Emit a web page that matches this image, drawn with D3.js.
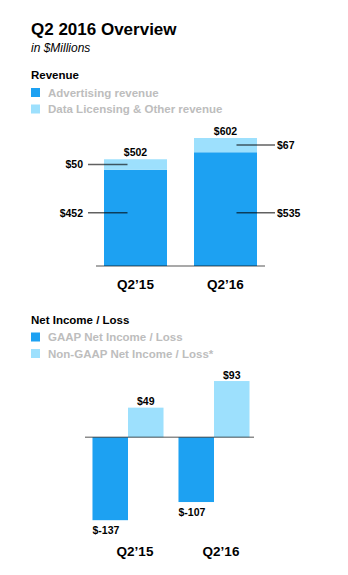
<!DOCTYPE html>
<html>
<head>
<meta charset="utf-8">
<script src="https://cdn.jsdelivr.net/npm/d3@7"></script>
<style>
  html, body { margin: 0; padding: 0; background: #fff; }
  svg { display: block; font-family: "Liberation Sans", Arial, Helvetica, sans-serif; }
</style>
</head>
<body>
<svg id="chart" width="348" height="575"></svg>
<script>
// Quarterly figures, $ millions
const quarters = ["Q2\u201915", "Q2\u201916"];
const advertising = [452, 535];
const dataLicensing = [50, 67];
const totalRevenue = [502, 602];
const gaapNet = [-137, -107];
const nonGaapNet = [49, 93];

const revenueLegend = ["Advertising revenue", "Data Licensing & Other revenue"];
const netLegend = ["GAAP Net Income / Loss", "Non-GAAP Net Income / Loss*"];

const DARK = "#1da1f2";
const LIGHT = "#9de0fd";
const LEGEND_TEXT = "#bdbdbd";

const svg = d3.select("#chart");

// Headings
svg.append("text").attr("x", 31).attr("y", 35)
  .attr("font-size", 17).attr("font-weight", "bold").attr("fill", "#000")
  .text("Q2 2016 Overview");
svg.append("text").attr("x", 31).attr("y", 52)
  .attr("font-size", 12).attr("font-style", "italic").attr("fill", "#000")
  .text("in $Millions");

function legend(title, items, y0) {
  svg.append("text").attr("x", 31).attr("y", y0)
    .attr("font-size", 11.5).attr("font-weight", "bold").attr("fill", "#000")
    .text(title);
  const colors = [DARK, LIGHT];
  items.forEach((t, i) => {
    const y = y0 + 9 + i * 16.5;
    svg.append("rect").attr("x", 31).attr("y", y).attr("width", 9).attr("height", 9)
      .attr("fill", colors[i]);
    svg.append("text").attr("x", 48).attr("y", y + 8.5)
      .attr("font-size", 11.5).attr("font-weight", "bold").attr("fill", LEGEND_TEXT)
      .text(t);
  });
}

legend("Revenue", revenueLegend, 79);
legend("Net Income / Loss", netLegend, 323.5);

// ---------- Revenue: stacked bars ----------
const xRev = d3.scaleBand().domain(quarters).range([96, 265])
  .paddingInner(0.3).paddingOuter(0.089);
const yRev = d3.scaleLinear().domain([0, 602]).range([266, 138]);
const darkLabelLevel = 250;   // value height at which the advertising callouts sit

const revRows = quarters.map((q, i) => ({
  q, i, adv: advertising[i], lic: dataLicensing[i], total: totalRevenue[i]
}));

const rev = svg.append("g");
rev.selectAll("rect.adv").data(revRows).join("rect")
  .attr("class", "adv")
  .attr("x", d => xRev(d.q)).attr("width", xRev.bandwidth())
  .attr("y", d => yRev(d.adv)).attr("height", d => yRev(0) - yRev(d.adv))
  .attr("fill", DARK);
rev.selectAll("rect.lic").data(revRows).join("rect")
  .attr("class", "lic")
  .attr("x", d => xRev(d.q)).attr("width", xRev.bandwidth())
  .attr("y", d => yRev(d.adv + d.lic)).attr("height", d => yRev(d.adv) - yRev(d.adv + d.lic))
  .attr("fill", LIGHT);

// totals above bars
rev.selectAll("text.total").data(revRows).join("text")
  .attr("class", "total")
  .attr("x", d => xRev(d.q) + xRev.bandwidth() / 2)
  .attr("y", d => yRev(d.total) - 3.5)
  .attr("text-anchor", "middle").attr("font-size", 10.5).attr("font-weight", "bold")
  .text(d => "$" + d.total);

// callouts: first bar to the left, second bar to the right
const callouts = [];
revRows.forEach(d => {
  const cx = xRev(d.q) + xRev.bandwidth() / 2;
  const left = d.i === 0;
  const x1 = left ? xRev(d.q) - 16 : cx + 11;
  const x2 = left ? cx - 8 : xRev(d.q) + xRev.bandwidth() + 18;
  callouts.push({ x1, x2, left, y: (yRev(d.adv) + yRev(d.adv + d.lic)) / 2, v: d.lic });
  callouts.push({ x1, x2, left, y: yRev(darkLabelLevel), v: d.adv });
});
rev.selectAll("line.callout").data(callouts).join("line")
  .attr("class", "callout")
  .attr("x1", d => d.x1).attr("x2", d => d.x2)
  .attr("y1", d => d.y).attr("y2", d => d.y)
  .attr("stroke", "#000").attr("stroke-opacity", 0.62).attr("stroke-width", 1.5);
rev.selectAll("text.callout").data(callouts).join("text")
  .attr("class", "callout")
  .attr("x", d => d.left ? d.x1 - 5 : d.x2 + 2)
  .attr("y", d => d.y + 3.8)
  .attr("text-anchor", d => d.left ? "end" : "start")
  .attr("font-size", 10.5).attr("font-weight", "bold")
  .text(d => "$" + d.v);

// baseline
rev.append("line")
  .attr("x1", xRev.range()[0]).attr("x2", xRev.range()[1])
  .attr("y1", yRev(0)).attr("y2", yRev(0))
  .attr("stroke", "#000").attr("stroke-opacity", 0.45).attr("stroke-width", 1.5);

rev.selectAll("text.cat").data(quarters).join("text")
  .attr("class", "cat")
  .attr("x", q => xRev(q) + xRev.bandwidth() / 2)
  .attr("y", 289)
  .attr("text-anchor", "middle").attr("font-size", 13.5).attr("font-weight", "bold")
  .text(q => q);

// ---------- Net income: grouped bars ----------
const xNet = d3.scaleBand().domain(quarters).range([85, 257])
  .paddingInner(0.174).paddingOuter(0.087);
const xSub = d3.scaleBand().domain(["gaap", "nongaap"]).range([0, xNet.bandwidth()]);
const yNet = d3.scaleLinear().domain([-140, 100]).range([522, 376.8]);

const netRows = [];
quarters.forEach((q, i) => {
  netRows.push({ q, key: "gaap", v: gaapNet[i], color: DARK });
  netRows.push({ q, key: "nongaap", v: nonGaapNet[i], color: LIGHT });
});

const net = svg.append("g");
net.selectAll("rect").data(netRows).join("rect")
  .attr("x", d => xNet(d.q) + xSub(d.key)).attr("width", xSub.bandwidth())
  .attr("y", d => yNet(Math.max(0, d.v)))
  .attr("height", d => Math.abs(yNet(d.v) - yNet(0)))
  .attr("fill", d => d.color);

net.selectAll("text.val").data(netRows).join("text")
  .attr("class", "val")
  .attr("x", d => d.v >= 0 ? xNet(d.q) + xSub(d.key) + xSub.bandwidth() / 2 : xNet(d.q) + xSub(d.key))
  .attr("y", d => d.v >= 0 ? yNet(d.v) - 2.5 : yNet(d.v) + 14)
  .attr("text-anchor", d => d.v >= 0 ? "middle" : "start")
  .attr("font-size", 10.5).attr("font-weight", "bold")
  .text(d => "$" + d.v);

net.append("line")
  .attr("x1", xNet.range()[0]).attr("x2", xNet.range()[1] - 3)
  .attr("y1", yNet(0)).attr("y2", yNet(0))
  .attr("stroke", "#000").attr("stroke-opacity", 0.45).attr("stroke-width", 1.5);

net.selectAll("text.cat").data(quarters).join("text")
  .attr("class", "cat")
  .attr("x", q => xNet(q) + xNet.bandwidth() / 2 + 7)
  .attr("y", 556)
  .attr("text-anchor", "middle").attr("font-size", 13.5).attr("font-weight", "bold")
  .text(q => q);
</script>
</body>
</html>
